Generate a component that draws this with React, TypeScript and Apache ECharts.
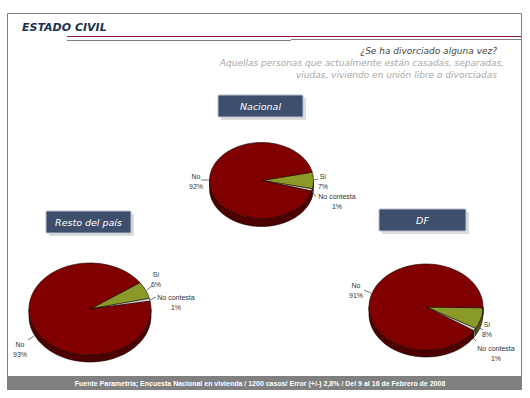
import React, { useEffect, useRef } from "react";
import * as echarts from "echarts";

// ---- Data ----
const categories = ["No", "Sí", "No contesta"];
const nacional = [92, 7, 1];
const restoDelPais = [93, 6, 1];
const df = [91, 8, 1];
const pieTitles = ["Nacional", "Resto del país", "DF"];
const title = "ESTADO CIVIL";
const question = "¿Se ha divorciado alguna vez?";
const subLines = [
  "Aquellas personas que actualmente están casadas, separadas,",
  "viudas, viviendo en unión libre o divorciadas",
];
const footer =
  "Fuente Parametría; Encuesta Nacional en vivienda / 1200 casos/ Error (+/-) 2,8% / Del 9 al 16 de Febrero de 2008";

// ---- Layout / style (not data) ----
const drawOrder = [1, 2, 0]; // clockwise from start angle: Sí, No contesta, No
const topColors = ["#800000", "#8a9a28", "#d4d4d4"];
const sideColors = ["#4c0000", "#4e5813", "#8a8a8a"];

type PieLayout = {
  cx: number; cy: number; rx: number; ry: number; depth: number; start: number;
  labels: { x: number; y: number; leader: number[][] }[]; // indexed by category
  box: { x: number; y: number; w: number; h: number };
};
const layouts: PieLayout[] = [
  {
    cx: 261.5, cy: 180.5, rx: 52, ry: 38, depth: 8, start: 12.7,
    labels: [
      { x: 196, y: 171, leader: [[201, 180], [209.5, 180]] },
      { x: 323, y: 171, leader: [[313.5, 180], [318, 179]] },
      { x: 337, y: 191, leader: [[311, 190], [316, 197]] },
    ],
    box: { x: 218, y: 95, w: 85, h: 22 },
  },
  {
    cx: 90, cy: 309, rx: 61, ry: 46, depth: 7, start: 35,
    labels: [
      { x: 20, y: 339, leader: [[28, 340], [34, 336]] },
      { x: 156, y: 269, leader: [[147, 290], [152, 286]] },
      { x: 176, y: 292, leader: [[150, 300], [156, 297]] },
    ],
    box: { x: 46, y: 211, w: 85, h: 22 },
  },
  {
    cx: 426, cy: 307, rx: 57, ry: 43, depth: 7, start: -1,
    labels: [
      { x: 356, y: 280, leader: [[364, 290], [371, 293]] },
      { x: 487, y: 319, leader: [[478, 327], [483, 330]] },
      { x: 496, y: 343, leader: [[472, 337], [476, 341]] },
    ],
    box: { x: 379, y: 209, w: 87, h: 22 },
  },
];

const LABEL_FONT = '7px "Liberation Sans", Arial, sans-serif';

function arc(L: PieLayout, from: number, to: number, dy: number): number[][] {
  const pts: number[][] = [];
  const n = Math.max(2, Math.ceil(Math.abs(to - from) / 2));
  for (let i = 0; i <= n; i++) {
    const a = ((from + ((to - from) * i) / n) * Math.PI) / 180;
    pts.push([L.cx + L.rx * Math.cos(a), L.cy - L.ry * Math.sin(a) + dy]);
  }
  return pts;
}

function makeSeries(values: number[], L: PieLayout) {
  const ordered = drawOrder.map((ci) => ({ name: categories[ci], value: values[ci], ci }));
  const total = ordered.reduce((s, d) => s + d.value, 0);
  const spans: { s: number; e: number }[] = [];
  let cur = L.start;
  ordered.forEach((d) => {
    const sweep = (360 * d.value) / total;
    spans.push({ s: cur, e: cur - sweep });
    cur -= sweep;
  });
  return {
    type: "custom",
    coordinateSystem: "none",
    silent: true,
    data: ordered.map((d) => ({ name: d.name, value: d.value })),
    renderItem: (params: any) => {
      const i = params.dataIndex;
      const d = ordered[i];
      const { s, e } = spans[i];
      const children: any[] = [];
      for (let k = -2; k <= 1; k++) {
        const lo = Math.max(e, -180 + 360 * k);
        const hi = Math.min(s, 360 * k);
        if (hi > lo) {
          const top = arc(L, hi, lo, 0);
          const bot = arc(L, lo, hi, L.depth);
          children.push({
            type: "polygon",
            shape: { points: top.concat(bot) },
            style: { fill: sideColors[d.ci], stroke: "#1a0000", lineWidth: 0.6 },
          });
        }
      }
      const pts = [[L.cx, L.cy]].concat(arc(L, s, e, 0));
      children.push({
        type: "polygon",
        shape: { points: pts },
        style: { fill: topColors[d.ci], stroke: "#1a0000", lineWidth: 0.6 },
      });
      const lab = L.labels[d.ci];
      children.push({
        type: "polyline",
        shape: { points: lab.leader },
        style: { stroke: "#555", lineWidth: 0.8, fill: null },
      });
      children.push({
        type: "text",
        style: {
          text: d.name + "\n" + Math.round((100 * d.value) / total) + "%",
          x: lab.x,
          y: lab.y,
          fill: "#333",
          font: LABEL_FONT,
          align: "center",
          verticalAlign: "top",
          lineHeight: 10,
        },
      });
      return { type: "group", children };
    },
  };
}

export default function App() {
  const ref = useRef<HTMLDivElement>(null);
  useEffect(() => {
    if (!ref.current) return;
    const chart = echarts.init(ref.current, undefined, { renderer: "svg" });
    const graphics: any[] = [
      { type: "polyline", shape: { points: [[7.5, 376], [7.5, 13.5], [521.5, 13.5], [521.5, 376]] }, style: { stroke: "#808080", lineWidth: 1, fill: null } },
      { type: "line", shape: { x1: 67, y1: 36.5, x2: 521, y2: 36.5 }, style: { stroke: "#8e1450", lineWidth: 1 } },
      { type: "line", shape: { x1: 67, y1: 40.5, x2: 291, y2: 40.5 }, style: { stroke: "#808080", lineWidth: 1 } },
      { type: "line", shape: { x1: 291, y1: 39.5, x2: 521, y2: 39.5 }, style: { stroke: "#808080", lineWidth: 1 } },
      { type: "text", x: 22, y: 27, style: { text: title, font: 'italic bold 11px "DejaVu Sans", sans-serif', fill: "#1b3150", verticalAlign: "middle" } },
      { type: "text", x: 497, y: 50.5, style: { text: question, font: 'italic 9px "DejaVu Sans", sans-serif', fill: "#454545", align: "right", verticalAlign: "middle" } },
      { type: "text", x: 504, y: 62.5, style: { text: subLines[0], font: 'italic 9px "DejaVu Sans", sans-serif', fill: "#a8a8a8", align: "right", verticalAlign: "middle" } },
      { type: "text", x: 497, y: 74.5, style: { text: subLines[1], font: 'italic 9px "DejaVu Sans", sans-serif', fill: "#a8a8a8", align: "right", verticalAlign: "middle" } },
      { type: "rect", shape: { x: 7, y: 376, width: 515, height: 14 }, style: { fill: "#808080" } },
      { type: "text", x: 260, y: 383, style: { text: footer, font: 'bold 7px "Liberation Sans", Arial, sans-serif', fill: "#ffffff", align: "center", verticalAlign: "middle" } },
    ];
    layouts.forEach((L, i) => {
      const b = L.box;
      graphics.push({ type: "rect", shape: { x: b.x + 3, y: b.y + 3, width: b.w, height: b.h }, style: { fill: "#dcdcdc" } });
      graphics.push({ type: "rect", shape: { x: b.x, y: b.y, width: b.w, height: b.h, r: 1 }, style: { fill: "#3d4f6c", stroke: "#b9c0cc", lineWidth: 1 } });
      graphics.push({
        type: "text",
        x: b.x + b.w / 2,
        y: b.y + b.h / 2,
        style: { text: pieTitles[i], font: 'italic 9.5px "DejaVu Sans", sans-serif', fill: "#ffffff", align: "center", verticalAlign: "middle" },
      });
    });
    chart.setOption({
      animation: false,
      backgroundColor: "#ffffff",
      graphic: graphics,
      series: [
        makeSeries(nacional, layouts[0]),
        makeSeries(restoDelPais, layouts[1]),
        makeSeries(df, layouts[2]),
      ],
    });
    return () => chart.dispose();
  }, []);
  return (
    <div
      ref={ref}
      style={{ position: "absolute", left: 0, top: 0, width: 530, height: 398 }}
    />
  );
}
